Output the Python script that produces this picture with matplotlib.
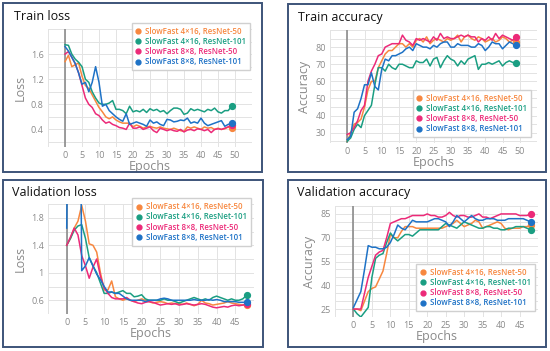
import numpy as np
import matplotlib
matplotlib.use('Agg')
import matplotlib.pyplot as plt
from matplotlib.lines import Line2D
from matplotlib.patches import Rectangle

plt.rcParams['font.family'] = ['Open Sans', 'DejaVu Sans']

labels = ['SlowFast 4\u00d716, ResNet-50', 'SlowFast 4\u00d716, ResNet-101',
          'SlowFast 8\u00d78, ResNet-50', 'SlowFast 8\u00d78, ResNet-101']
colors = ['#f7873f', '#1a9e82', '#ec2a78', '#1e72c6']

# train loss, epochs 0..49
tl_4x16_r50 = [1.48, 1.58, 1.40, 1.43, 1.46, 1.25, 1.10, 1.05, 0.95, 0.85,
               0.75, 0.68, 0.60, 0.57, 0.60, 0.55, 0.52, 0.50, 0.50, 0.50,
               0.44, 0.47, 0.45, 0.42, 0.44, 0.45, 0.43, 0.42, 0.44, 0.42,
               0.41, 0.40, 0.42, 0.40, 0.38, 0.37, 0.44, 0.42, 0.44, 0.42,
               0.40, 0.44, 0.42, 0.43, 0.40, 0.42, 0.40, 0.41, 0.44, 0.42]
tl_4x16_r101 = [1.75, 1.74, 1.60, 1.52, 1.47, 1.40, 1.20, 1.15, 1.00, 0.90,
                0.82, 0.80, 0.80, 0.82, 0.86, 0.72, 0.72, 0.70, 0.65, 0.77,
                0.68, 0.70, 0.68, 0.72, 0.67, 0.73, 0.70, 0.72, 0.68, 0.70,
                0.65, 0.70, 0.74, 0.74, 0.72, 0.64, 0.66, 0.73, 0.70, 0.72,
                0.70, 0.68, 0.72, 0.70, 0.74, 0.68, 0.66, 0.70, 0.70, 0.77]
tl_8x8_r50 = [1.60, 1.64, 1.55, 1.45, 1.30, 1.10, 0.90, 0.80, 0.75, 0.65,
              0.62, 0.55, 0.50, 0.52, 0.48, 0.46, 0.43, 0.42, 0.40, 0.50,
              0.42, 0.42, 0.44, 0.40, 0.42, 0.44, 0.38, 0.35, 0.42, 0.40,
              0.38, 0.40, 0.38, 0.37, 0.40, 0.36, 0.39, 0.40, 0.38, 0.41,
              0.40, 0.38, 0.40, 0.35, 0.40, 0.41, 0.40, 0.42, 0.44, 0.47]
tl_8x8_r101 = [1.72, 1.65, 1.55, 1.45, 1.30, 1.12, 1.15, 1.00, 1.15, 1.40,
               1.15, 0.77, 0.80, 0.70, 0.65, 0.60, 0.56, 0.53, 0.65, 0.48,
               0.50, 0.52, 0.50, 0.48, 0.45, 0.55, 0.50, 0.52, 0.48, 0.46,
               0.56, 0.55, 0.52, 0.53, 0.55, 0.54, 0.58, 0.50, 0.52, 0.50,
               0.58, 0.50, 0.46, 0.48, 0.50, 0.52, 0.54, 0.45, 0.48, 0.50]

# train accuracy, epochs 0..49
ta_4x16_r50 = [25, 30, 35, 36, 38, 45, 55, 60, 60, 68,
               72, 76, 78, 78, 80, 82, 82, 80, 82, 80,
               84, 85, 83, 86, 82, 84, 85, 84, 83, 85,
               84, 85, 87, 83, 86, 87, 85, 84, 86, 85,
               83, 84, 85, 83, 84, 86, 85, 83, 84, 83]
ta_4x16_r101 = [25, 27, 32, 35, 33, 40, 43, 46, 58, 68,
                68, 66, 70, 68, 67, 70, 70, 69, 68, 68,
                72, 71, 71, 73, 69, 73, 74, 68, 72, 75,
                73, 72, 69, 72, 70, 73, 74, 75, 67, 70,
                70, 71, 70, 71, 72, 69, 71, 72, 71, 71]
ta_8x8_r50 = [29, 30, 33, 37, 43, 46, 60, 66, 70, 75,
              76, 80, 81, 82, 82, 82, 87, 84, 83, 81,
              85, 84, 85, 84, 83, 86, 84, 88, 85, 86,
              85, 85, 86, 87, 86, 87, 86, 86, 83, 85,
              84, 86, 84, 88, 85, 87, 86, 85, 84, 86]
ta_8x8_r101 = [26, 28, 42, 44, 50, 58, 58, 65, 57, 55,
               67, 73, 72, 75, 75, 76, 77, 79, 80, 78,
               82, 81, 80, 80, 79, 81, 80, 82, 83, 83,
               80, 80, 82, 81, 81, 81, 80, 80, 82, 81,
               78, 80, 83, 82, 82, 79, 81, 83, 82, 81]

# validation loss, epochs 0..48
vl_4x16_r50 = [1.40, 1.50, 1.65, 1.75, 1.98, 1.75, 1.42, 1.40, 1.30, 1.00,
               0.75, 0.75, 0.88, 0.65, 0.62, 0.60, 0.62, 0.60, 0.58, 0.60,
               0.62, 0.60, 0.58, 0.56, 0.57, 0.58, 0.57, 0.55, 0.56, 0.55,
               0.55, 0.54, 0.56, 0.54, 0.52, 0.54, 0.60, 0.56, 0.55, 0.53,
               0.54, 0.55, 0.56, 0.58, 0.56, 0.55, 0.54, 0.53, 0.53]
vl_4x16_r101 = [1.40, 1.50, 1.62, 1.68, 1.70, 1.50, 1.22, 1.10, 1.00, 0.85,
                0.70, 0.70, 0.72, 0.70, 0.72, 0.74, 0.70, 0.70, 0.65, 0.66,
                0.68, 0.62, 0.60, 0.60, 0.60, 0.60, 0.62, 0.60, 0.60, 0.58,
                0.56, 0.58, 0.60, 0.62, 0.64, 0.62, 0.60, 0.62, 0.60, 0.64,
                0.66, 0.64, 0.62, 0.60, 0.62, 0.60, 0.60, 0.62, 0.67]
vl_8x8_r50 = [1.40, 1.52, 1.65, 1.55, 1.25, 1.10, 0.92, 1.08, 1.20, 0.95,
              0.78, 0.70, 0.64, 0.62, 0.62, 0.62, 0.64, 0.60, 0.58, 0.56,
              0.55, 0.57, 0.58, 0.57, 0.55, 0.53, 0.54, 0.55, 0.54, 0.55,
              0.53, 0.54, 0.55, 0.54, 0.53, 0.54, 0.55, 0.54, 0.52, 0.50,
              0.49, 0.50, 0.51, 0.50, 0.52, 0.53, 0.52, 0.53, 0.55]
vl_8x8_r101 = [1.65, 8.00, 8.00, 8.00, 1.03, 1.10, 1.22, 1.10, 0.98, 0.90,
               0.80, 0.72, 0.72, 0.70, 0.70, 0.66, 0.62, 0.60, 0.60, 0.60,
               0.60, 0.58, 0.60, 0.60, 0.60, 0.62, 0.63, 0.62, 0.60, 0.60,
               0.60, 0.60, 0.60, 0.60, 0.61, 0.60, 0.60, 0.60, 0.61, 0.60,
               0.61, 0.60, 0.58, 0.58, 0.58, 0.58, 0.57, 0.57, 0.57]

# validation accuracy, epochs 0..48
va_4x16_r50 = [25, 25, 24, 30, 36, 38, 39, 44, 49, 60,
               72, 70, 70, 74, 77, 77, 77, 76, 76, 76,
               76, 76, 76, 76, 76, 77, 78, 79, 81, 79,
               77, 78, 79, 81, 80, 76, 77, 78, 79, 80,
               79, 76, 75, 76, 76, 76, 77, 77, 78]
va_4x16_r101 = [25, 22, 20, 23, 26, 45, 57, 59, 60, 67,
                73, 70, 68, 70, 72, 72, 71, 73, 75, 75,
                75, 75, 75, 75, 77, 79, 78, 77, 76, 78,
                80, 79, 78, 77, 76, 76, 77, 77, 76, 76,
                75, 75, 76, 76, 77, 77, 77, 76, 75]
va_8x8_r50 = [25, 25, 25, 35, 45, 52, 59, 61, 62, 70,
              79, 80, 81, 82, 82, 83, 84, 84, 84, 84,
              85, 84, 84, 83, 83, 84, 86, 84, 83, 84,
              84, 83, 83, 84, 85, 83, 83, 82, 83, 84,
              85, 85, 85, 85, 85, 84, 84, 84, 85]
va_8x8_r101 = [26, 31, 36, 50, 65, 64, 64, 63, 63, 64,
               67, 72, 78, 76, 75, 78, 81, 80, 80, 80,
               80, 81, 82, 82, 81, 80, 77, 80, 84, 82,
               80, 82, 84, 82, 81, 81, 82, 82, 82, 81,
               81, 81, 82, 82, 82, 82, 82, 81, 80]

W, H = 550, 351
fig = plt.figure(figsize=(W / 100, H / 100), dpi=100)
fig.patch.set_facecolor('white')


def px_axes(x0, y0, x1, y1):
    return fig.add_axes([x0 / W, 1 - y1 / H, (x1 - x0) / W, (y1 - y0) / H])


def panel_box(x0, y0, x1, y1):
    fig.patches.append(Rectangle((x0 / W, 1 - y1 / H), (x1 - x0) / W, (y1 - y0) / H,
                                 transform=fig.transFigure, fill=False,
                                 edgecolor='#3d5479', linewidth=1.4))


def draw(ax, series, xlim, ylim, yticks, ytl, xticks, minor, title, ylabel, tx, ty, legloc):
    for vals, c, lab in zip(series, colors, labels):
        ep = np.arange(len(vals))
        ax.plot(ep, vals, color=c, lw=1.1, label=lab, zorder=3)
        ax.plot(ep[-1], vals[-1], 'o', color=c, ms=4.2, zorder=4)
    ax.set_xlim(*xlim)
    ax.set_ylim(*ylim)
    ax.set_xticks(xticks)
    ax.set_yticks(yticks)
    ax.set_yticklabels(ytl)
    ax.set_xticks(np.arange(xlim[0], xlim[1] + 0.1, 5), minor=True)
    ax.set_yticks(minor, minor=True)
    ax.grid(True, which='both', color='#e3e3e3', lw=0.7, zorder=0)
    ax.axvline(0, color='#8c8c8c', lw=1.2, zorder=2)
    for s in ax.spines.values():
        s.set_visible(False)
    ax.tick_params(which='both', length=0, labelsize=6.5, labelcolor='#8a8a8a', pad=3)
    ax.set_xlabel('Epochs', fontsize=9, color='#8a8a8a', labelpad=0)
    ax.set_ylabel(ylabel, fontsize=9, color='#8a8a8a', labelpad=3)
    fig.text(tx / W, 1 - ty / H, title, fontsize=9, color='#111111', va='center', ha='left')
    handles = [Line2D([], [], marker='o', ls='none', color=c, ms=3.5) for c in colors]
    leg = ax.legend(handles, labels, loc=legloc, fontsize=5.7, frameon=True, fancybox=False,
                    edgecolor='#d0d0d0', framealpha=1, handlelength=0.6, handletextpad=0.6,
                    borderpad=0.5, labelspacing=0.15, borderaxespad=0)
    for t, c in zip(leg.get_texts(), colors):
        t.set_color(c)
        t.set_fontweight('semibold')
    leg.set_zorder(5)
    return leg


panel_box(3, 3, 262, 172)
panel_box(288, 4, 546, 172)
panel_box(3, 180, 263, 347)
panel_box(288, 180, 546, 347)

ax1 = px_axes(48, 29, 252, 147)
draw(ax1, [tl_4x16_r50, tl_4x16_r101, tl_8x8_r50, tl_8x8_r101],
     (-5, 55), (0.12, 2.0), [0.4, 0.8, 1.2, 1.6], ['0.4', '0.8', '1.2', '1.6'],
     np.arange(0, 55, 5), np.arange(0.2, 2.01, 0.2), 'Train loss', 'Loss', 14, 17,
     (0.41, 0.65))

ax2 = px_axes(330, 30, 537, 143)
draw(ax2, [ta_4x16_r50, ta_4x16_r101, ta_8x8_r50, ta_8x8_r101],
     (-5, 55), (24, 90), [30, 40, 50, 60, 70, 80], ['30', '40', '50', '60', '70', '80'],
     np.arange(0, 55, 5), np.arange(25, 91, 5), 'Train accuracy', 'Accuracy', 298, 17,
     (0.40, 0.05))

ax3 = px_axes(48, 204, 254, 314)
draw(ax3, [vl_4x16_r50, vl_4x16_r101, vl_8x8_r50, vl_8x8_r101],
     (-5, 50), (0.4, 2.0), [0.6, 1.0, 1.4, 1.8], ['0.6', '1', '1.4', '1.8'],
     np.arange(0, 50, 5), np.arange(0.4, 2.01, 0.2), 'Validation loss', 'Loss', 12, 192,
     (0.41, 0.62))

ax4 = px_axes(335, 206, 538, 317)
draw(ax4, [va_4x16_r50, va_4x16_r101, va_8x8_r50, va_8x8_r101],
     (-5, 50), (20, 90), [25, 40, 55, 70, 85], ['25', '40', '55', '70', '85'],
     np.arange(0, 50, 5), np.arange(20, 91, 5), 'Validation accuracy', 'Accuracy', 297, 192,
     (0.40, 0.05))

fig.savefig('out.png', dpi=100)
